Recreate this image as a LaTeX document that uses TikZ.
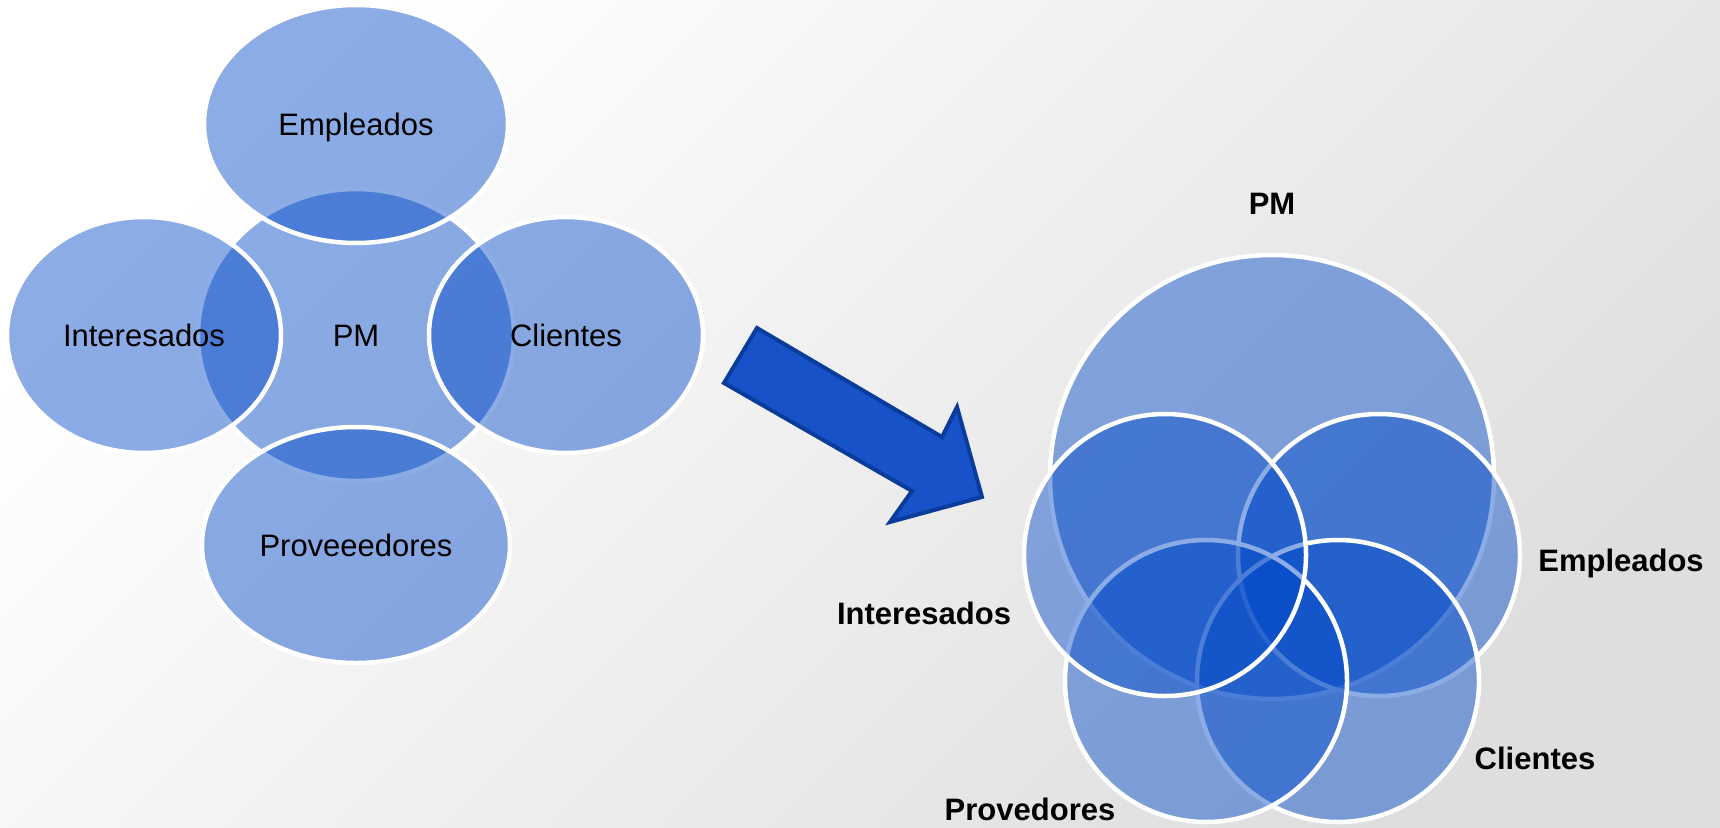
\documentclass[tikz,border=0pt]{standalone}
\usepackage{fontspec}
\setmainfont{Liberation Sans}
\usetikzlibrary{shapes.geometric}
\definecolor{vblue}{RGB}{0,72,200}
\definecolor{arrowfill}{RGB}{23,82,200}
\definecolor{arrowline}{RGB}{10,60,156}
\definecolor{bgend}{RGB}{222,222,222}
\begin{document}
\begin{tikzpicture}[x=1pt,y=-1pt,
  vset/.style={fill=vblue, fill opacity=0.45, text opacity=1, draw=white, line width=4.5pt,
    inner sep=0pt, font=\fontsize{31}{37}\selectfont, text height=22pt, text depth=0pt},
  lell/.style={vset, ellipse},
  rcirc/.style={vset, circle},
  blab/.style={font=\fontsize{31}{37}\selectfont\bfseries, text height=22pt, text depth=0pt, inner sep=0pt},
  bigarrow/.style={fill=arrowfill, draw=arrowline, line width=4pt, line join=miter}]
\useasboundingbox (0,0) rectangle (1720,827);
\shade[top color=white, bottom color=bgend, shading angle=45] (0,0) rectangle (1720,827);
% left diagram
\node[lell, minimum width=316pt, minimum height=292pt] (pm) at (356,335) {PM};
\node[lell, minimum width=304pt, minimum height=238pt] (emp) at (356,124) {Empleados};
\node[lell, minimum width=274pt, minimum height=236pt] (int) at (144,335) {Interesados};
\node[lell, minimum width=274pt, minimum height=236pt] (cli) at (566,335) {Clientes};
\node[lell, minimum width=308pt, minimum height=236pt] (pro) at (356,545) {Proveeedores};
% arrow
\draw[bigarrow] (757,328) -- (942,437) -- (957,407) -- (982,497) -- (890,522) -- (912,491) -- (724,383) -- cycle;
% right diagram
\node[rcirc, minimum size=444pt] (rpm) at (1272,477) {};
\node[rcirc, minimum size=282pt] (remp) at (1379,555) {};
\node[rcirc, minimum size=282pt] (rcli) at (1338,681) {};
\node[rcirc, minimum size=282pt] (rpro) at (1206,681) {};
\node[rcirc, minimum size=282pt] (rint) at (1165,555) {};
\node[blab] (lpm) at (1272,203) {PM};
\node[blab] (lemp) at (1621,560) {Empleados};
\node[blab] (lint) at (924,613) {Interesados};
\node[blab] (lcli) at (1535,758) {Clientes};
\node[blab] (lpro) at (1030,809) {Provedores};
\end{tikzpicture}
\end{document}
